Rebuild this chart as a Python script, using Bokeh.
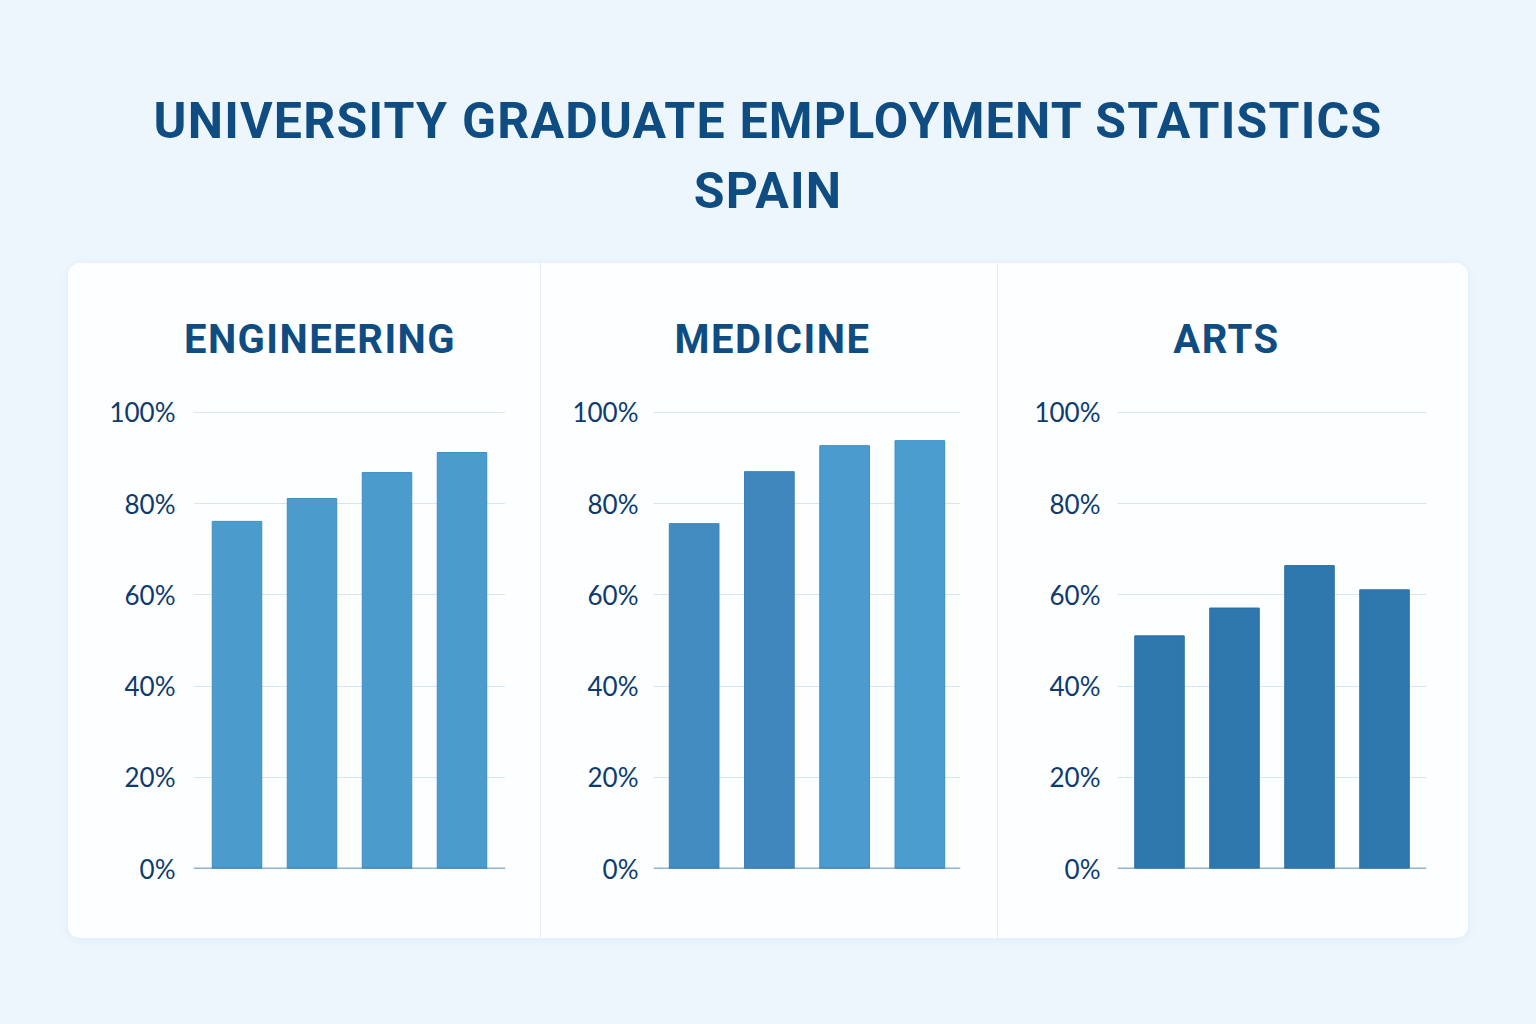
from bokeh.plotting import figure
from bokeh.layouts import column, row
from bokeh.models import Div, FactorRange, Range1d, Span
from bokeh.embed import file_html
from bokeh.resources import INLINE

# ---- data -------------------------------------------------------------
title_lines = ["UNIVERSITY GRADUATE EMPLOYMENT STATISTICS", "SPAIN"]
fields = ["ENGINEERING", "MEDICINE", "ARTS"]
groups = ["1", "2", "3", "4"]
engineering = [76.1, 81.1, 86.8, 91.2]
medicine = [75.6, 87.0, 92.7, 93.8]
arts = [51.0, 57.1, 66.4, 61.1]
y_ticks = [0, 20, 40, 60, 80, 100]
tick_labels = [f"{t}%" for t in y_ticks]

# ---- styling ----------------------------------------------------------
PAGE_BG = "#eef6fd"
TITLE_COLOR = "#0f4c81"
TICK_COLOR = "#0d3b6e"
GRID_COLOR = "#d8e6f2"
BASE_COLOR = "#2b6aa0"

eng_colors = ["#4b9ccd"] * 4
med_colors = ["#438cc1", "#3f87bd", "#4b9bce", "#4b9ccf"]
art_colors = ["#2f78ae"] * 4
eng_lines = ["#3f8fc3"] * 4
med_lines = ["#3a82b8", "#3a80b5", "#3f8fc3", "#3f8fc3"]
art_lines = ["#2a6ea3"] * 4

CARD_H = 675
HEAD_H = 110
FIG_H = CARD_H - HEAD_H

# panel width, frame left border, frame right border, title shift,
# category padding, tick-label standoff
panel_geo = [
    (472, 125, 35, 16, 0.04, 18),
    (457, 113, 37, 4, 0.02, 15),
    (471, 120, 42, -6, 0.03, 17),
]


def make_panel(name, values, colors, lines, geo, divider):
    w, left, right, shift, pad, standoff = geo
    head = Div(
        text=(
            f'<div style="width:{w}px;box-sizing:border-box;padding-top:57px;'
            f'padding-left:{max(shift, 0) * 2}px;padding-right:{max(-shift, 0) * 2}px;'
            f'text-align:center;font-family:Roboto;font-weight:700;font-size:40px;'
            f'line-height:40px;letter-spacing:1.5px;color:{TITLE_COLOR};">{name}</div>'
        ),
        width=w,
        height=HEAD_H,
        margin=0,
    )
    p = figure(
        width=w,
        height=FIG_H,
        x_range=FactorRange(factors=groups, range_padding=pad),
        y_range=Range1d(0, 102.6),
        output_backend="svg",
        toolbar_location=None,
        min_border_left=left,
        min_border_right=right,
        min_border_top=27,
        min_border_bottom=70,
        margin=0,
    )
    p.background_fill_color = None
    p.border_fill_color = None
    p.outline_line_color = None

    p.vbar(x=groups, top=values, width=0.66, fill_color=colors,
           line_color=lines, line_width=1)

    p.xaxis.visible = False
    p.xgrid.grid_line_color = None
    p.ygrid.ticker = y_ticks
    p.ygrid.grid_line_color = GRID_COLOR
    p.ygrid.grid_line_width = 1

    ax = p.yaxis[0]
    ax.ticker = y_ticks
    ax.major_label_overrides = dict(zip(y_ticks, tick_labels))
    ax.axis_line_color = None
    ax.major_tick_line_color = None
    ax.major_tick_out = 0
    ax.major_tick_in = 0
    ax.minor_tick_line_color = None
    ax.minor_tick_out = 0
    ax.major_label_standoff = standoff
    ax.major_label_text_font = "Lato"
    ax.major_label_text_font_size = "26px"
    ax.major_label_text_color = TICK_COLOR

    p.add_layout(Span(location=0, dimension="width", line_color=BASE_COLOR,
                      line_width=1.5))

    styles = {}
    if divider:
        styles = {"box-shadow": "inset 1px 0 0 #e3ecf4"}
    return column(head, p, width=w, height=CARD_H, styles=styles, margin=0)


panels = [
    make_panel(fields[0], engineering, eng_colors, eng_lines, panel_geo[0], False),
    make_panel(fields[1], medicine, med_colors, med_lines, panel_geo[1], True),
    make_panel(fields[2], arts, art_colors, art_lines, panel_geo[2], True),
]

card = row(
    *panels,
    width=sum(g[0] for g in panel_geo),
    height=CARD_H,
    margin=(0, 0, 0, 68),
    styles={
        "background-color": "#fdfeff",
        "border-radius": "12px",
        "box-shadow": "0 2px 12px rgba(40, 100, 160, 0.07)",
    },
)

header = Div(
    text=(
        f'<div style="width:1536px;padding-top:86px;text-align:center;'
        f'font-family:Roboto;font-weight:700;font-size:50px;line-height:70px;'
        f'letter-spacing:1.2px;color:{TITLE_COLOR};">'
        + "<br>".join(title_lines)
        + "</div>"
    ),
    width=1536,
    height=263,
    margin=0,
)

root = column(header, card, width=1536, height=1024, margin=0,
              styles={"background-color": PAGE_BG})

open("out.html", "w").write(file_html(root, INLINE))
